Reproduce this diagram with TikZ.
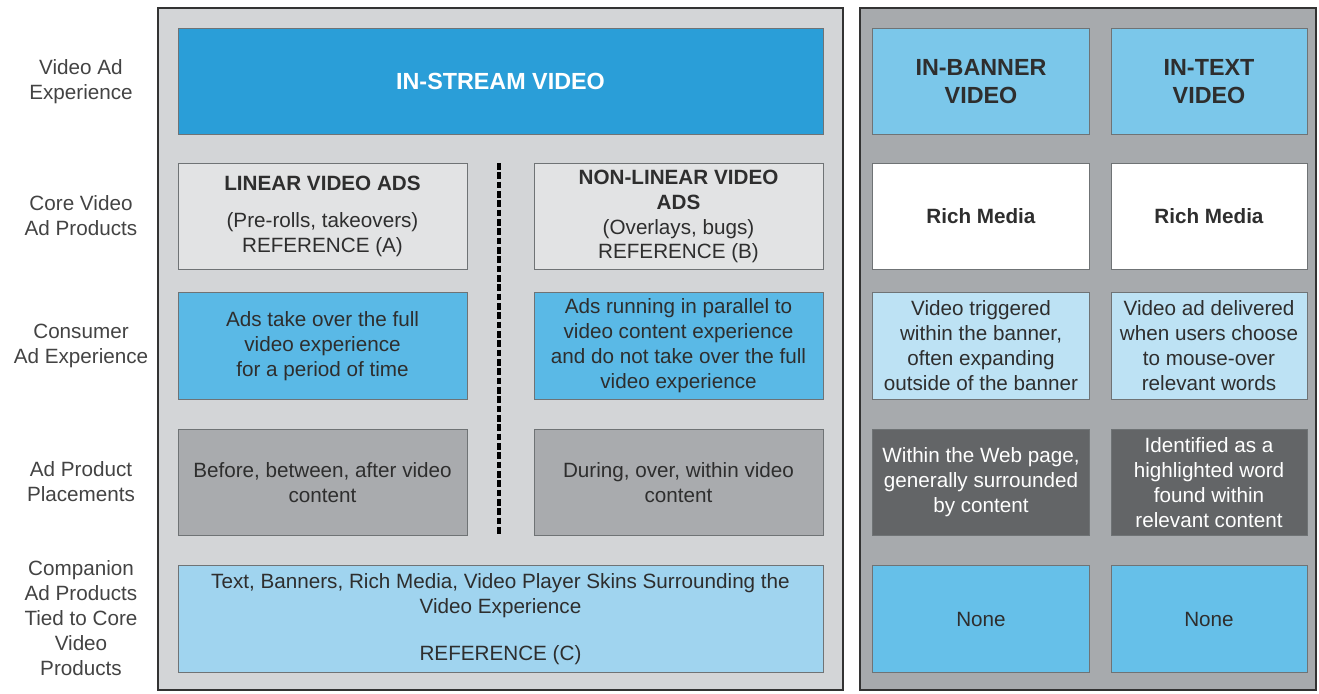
\documentclass[tikz,border=0pt]{standalone}
\usepackage{fontspec}
\setmainfont{Liberation Sans}
\definecolor{panelL}{HTML}{D3D5D7}
\definecolor{panelR}{HTML}{A7AAAD}
\definecolor{streamblue}{HTML}{2A9ED8}
\definecolor{coregray}{HTML}{E2E3E4}
\definecolor{consblue}{HTML}{5AB9E6}
\definecolor{placegray}{HTML}{A9ABAE}
\definecolor{compblue}{HTML}{A0D4EF}
\definecolor{hdrblue}{HTML}{7BC7EA}
\definecolor{paleblue}{HTML}{BDE2F4}
\definecolor{darkgray}{HTML}{636567}
\definecolor{noneblue}{HTML}{66C0E9}
\definecolor{boxline}{HTML}{6F7375}
\definecolor{txt}{HTML}{2E2E2E}
\begin{document}
\begin{tikzpicture}[x=0.75pt,y=-0.75pt,
  every node/.style={align=center,text=txt,font=\fontsize{15.5}{18.7}\selectfont,inner sep=2pt},
  box/.style={draw=boxline,line width=0.6pt,minimum height=80pt},
  wide/.style={box,minimum width=216.75pt},
  full/.style={box,minimum width=483.75pt},
  colb/.style={box,minimum width=162.45pt},
  colt/.style={box,minimum width=147pt},
  hdr/.style={font=\fontsize{17.5}{20.5}\selectfont\bfseries},
  rowlabel/.style={text=txt!90},
  panel/.style={draw=black!80,line width=2pt},
  sep/.style={line width=2.4pt,dash pattern=on 5pt off 2pt}]
\useasboundingbox (0,0) rectangle (1319,693);
% the two panels
\draw[panel,fill=panelL] (158,8) rectangle (843,690);
\draw[panel,fill=panelR] (860,8) rectangle (1316,690);
% row labels
\node[rowlabel] (lexp) at (81,82) {Video Ad\\Experience};
\node[rowlabel] (lcore) at (81,216) {Core Video\\Ad Products};
\node[rowlabel] (lcons) at (81,346) {Consumer\\Ad Experience};
\node[rowlabel] (lplace) at (81,482) {Ad Product\\Placements};
\node[rowlabel] (lcomp) at (81,618) {Companion\\Ad Products\\Tied to Core\\Video\\Products};
% in-stream panel
\node[full,hdr,fill=streamblue,text=white] (stream) at (500.5,81.5) {IN-STREAM VIDEO};
\node[wide,fill=coregray] (linear) at (322.5,216.5) {\textbf{LINEAR VIDEO ADS}\\[9pt](Pre-rolls, takeovers)\\REFERENCE (A)};
\node[wide,fill=coregray] (nonlinear) at (678.5,216.5) {\textbf{NON-LINEAR VIDEO}\\\textbf{ADS}\\(Overlays, bugs)\\REFERENCE (B)};
\node[wide,fill=consblue] (takeover) at (322.5,346) {Ads take over the full\\video experience\\for a period of time};
\node[wide,fill=consblue] (parallel) at (678.5,346) {Ads running in parallel to\\video content experience\\and do not take over the full\\video experience};
\node[wide,fill=placegray] (before) at (322.5,482.5) {Before, between, after video\\content};
\node[wide,fill=placegray] (during) at (678.5,482.5) {During, over, within video\\content};
\node[full,fill=compblue] (companion) at (500.5,619) {Text, Banners, Rich Media, Video Player Skins Surrounding the\\Video Experience\\[17pt]REFERENCE (C)};
\coordinate (septop) at (499,163);
\coordinate (sepbot) at (499,536);
\draw[sep] (septop) -- (sepbot);
% in-banner and in-text panel
\node[colb,hdr,fill=hdrblue] (banner) at (981,81.5) {IN-BANNER\\VIDEO};
\node[colt,hdr,fill=hdrblue] (intext) at (1209,81.5) {IN-TEXT\\VIDEO};
\node[colb,fill=white] (richb) at (981,216.5) {\textbf{Rich Media}};
\node[colt,fill=white] (richt) at (1209,216.5) {\textbf{Rich Media}};
\node[colb,fill=paleblue] (trigger) at (981,346) {Video triggered\\within the banner,\\often expanding\\outside of the banner};
\node[colt,fill=paleblue] (deliver) at (1209,346) {Video ad delivered\\when users choose\\to mouse-over\\relevant words};
\node[colb,fill=darkgray,text=white] (webpage) at (981,482.5) {Within the Web page,\\generally surrounded\\by content};
\node[colt,fill=darkgray,text=white] (highlight) at (1209,482.5) {Identified as a\\highlighted word\\found within\\relevant content};
\node[colb,fill=noneblue] (noneb) at (981,619) {None};
\node[colt,fill=noneblue] (nonet) at (1209,619) {None};
\end{tikzpicture}
\end{document}
